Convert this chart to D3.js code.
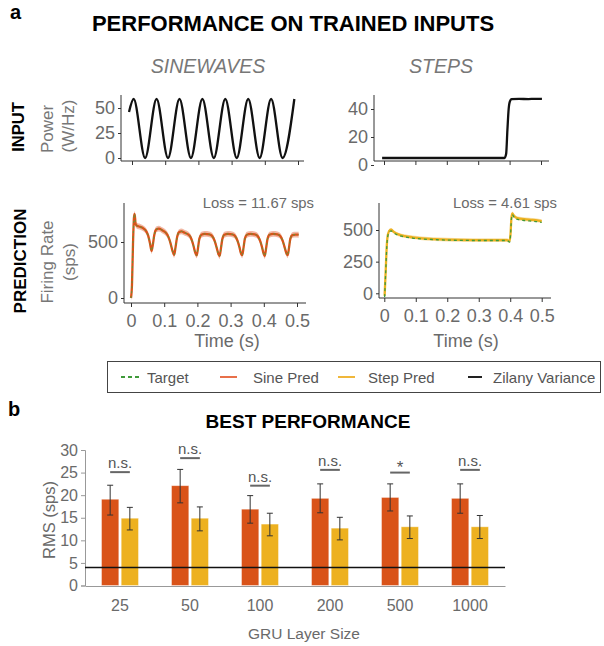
<!DOCTYPE html>
<html>
<head>
<meta charset="utf-8">
<script src="https://cdn.jsdelivr.net/npm/d3@7"></script>
<style>
  body { margin: 0; background: #fff; }
  svg { display: block; font-family: "Liberation Sans", Arial, Helvetica, sans-serif; }
</style>
</head>
<body>
<svg id="fig" width="604" height="646"></svg>
<script>
// ---------------------------------
// Data
// ---------------------------------
const timeTicks = [0, 0.1, 0.2, 0.3, 0.4, 0.5];

// sinewave input: extrema of the stimulus [t (s), power]
const sineInput = [
  [-0.009, 46], [0.005, 59], [0.0395, 0], [0.074, 59], [0.1085, 0], [0.143, 59],
  [0.1775, 0], [0.212, 59], [0.2465, 0], [0.281, 59], [0.3155, 0], [0.350, 59],
  [0.3845, 0], [0.419, 59], [0.4535, 0], [0.489, 59]
];

// step input [t, power]
const stepInput = [
  [-0.006, 5], [0.384, 5], [0.389, 8], [0.393, 25], [0.397, 40], [0.401, 45.5],
  [0.406, 47], [0.43, 47.2], [0.46, 47.1], [0.48, 47.3], [0.503, 47.2]
];

// predicted firing rate, sine-trained model [t, sps]
const sinePred = [
  [0.000, 0], [0.003, 120], [0.006, 480], [0.009, 720], [0.011, 750], [0.014, 660],
  [0.018, 645], [0.028, 635], [0.038, 620], [0.046, 595], [0.052, 555], [0.057, 490],
  [0.062, 420], [0.066, 480], [0.070, 560], [0.076, 612], [0.084, 620], [0.094, 605],
  [0.104, 585], [0.112, 550], [0.119, 490], [0.125, 420], [0.130, 385], [0.134, 450],
  [0.138, 530], [0.144, 585], [0.152, 595], [0.162, 582], [0.172, 568], [0.180, 540],
  [0.187, 480], [0.193, 410], [0.198, 380], [0.202, 450], [0.206, 530], [0.212, 565],
  [0.222, 572], [0.236, 568], [0.245, 552], [0.252, 510], [0.258, 450], [0.263, 395],
  [0.267, 375], [0.271, 445], [0.275, 525], [0.281, 565], [0.292, 572], [0.305, 568],
  [0.314, 552], [0.321, 510], [0.327, 450], [0.331, 400], [0.335, 382], [0.339, 450],
  [0.343, 530], [0.349, 565], [0.360, 572], [0.373, 568], [0.382, 552], [0.389, 510],
  [0.395, 450], [0.399, 400], [0.403, 375], [0.407, 445], [0.411, 525], [0.417, 565],
  [0.428, 572], [0.441, 568], [0.450, 552], [0.457, 510], [0.463, 450], [0.468, 400],
  [0.472, 382], [0.476, 450], [0.480, 530], [0.486, 562], [0.495, 566], [0.505, 565]
];
const sineTarget = sinePred; // target overlaps the prediction almost exactly

// predicted firing rate, step-trained model [t, sps]
const stepPred = [
  [0.001, -20], [0.004, 150], [0.008, 380], [0.012, 470], [0.018, 500], [0.022, 502],
  [0.030, 485], [0.045, 465], [0.065, 452], [0.09, 442], [0.12, 434], [0.16, 428],
  [0.2, 424], [0.25, 421], [0.3, 420], [0.35, 420], [0.39, 420], [0.398, 412],
  [0.401, 470], [0.404, 600], [0.407, 632], [0.411, 615], [0.418, 598], [0.43, 590],
  [0.45, 584], [0.47, 580], [0.49, 574], [0.5, 570]
];
const stepTarget = [
  [0.001, -30], [0.004, 140], [0.008, 370], [0.012, 462], [0.018, 490], [0.022, 492],
  [0.030, 477], [0.045, 458], [0.065, 446], [0.09, 436], [0.12, 429], [0.16, 424],
  [0.2, 420], [0.25, 418], [0.3, 417], [0.35, 417], [0.39, 417], [0.398, 405],
  [0.401, 460], [0.404, 590], [0.407, 622], [0.411, 605], [0.418, 588], [0.43, 580],
  [0.45, 574], [0.47, 570], [0.49, 564], [0.5, 560]
];

// panel b: best performance
const layerSizes = ["25", "50", "100", "200", "500", "1000"];
const sineRms   = [19.1, 22.1, 16.9, 19.3, 19.5, 19.3];
const sineErrLo = [15.6, 18.3, 13.8, 16.1, 16.5, 16.0];
const sineErrHi = [22.2, 25.7, 19.9, 22.5, 22.5, 22.5];
const stepRms   = [14.9, 14.9, 13.6, 12.7, 13.0, 13.0];
const stepErrLo = [12.3, 12.1, 11.0, 10.1, 10.4, 10.4];
const stepErrHi = [17.3, 17.4, 16.0, 15.1, 15.4, 15.5];
const sigLabels = ["n.s.", "n.s.", "n.s.", "n.s.", "*", "n.s."];
const sigLevel  = [25.1, 28.2, 22.1, 25.6, 25.0, 25.6];
const zilanyVariance = 4.0;
const rmsTicks = [0, 5, 10, 15, 20, 25, 30];

// ---------------------------------
// Styles
// ---------------------------------
const C = {
  sine: "#D95319",
  step: "#EDB120",
  target: "#3f9a3a",
  axis: "#333",
  tick: "#6a6a6a",
  label: "#777"
};

const svg = d3.select("#fig");

function txt(x, y, s, o = {}) {
  const t = svg.append("text")
    .attr("x", x).attr("y", y)
    .attr("text-anchor", o.anchor || "middle")
    .attr("font-size", o.size || 17)
    .attr("font-weight", o.weight || "normal")
    .attr("font-style", o.style || "normal")
    .attr("fill", o.fill || "#000")
    .text(s);
  if (o.rotate) t.attr("transform", `rotate(-90,${x},${y})`);
  return t;
}

// --- generic time-series panel ---
function timePanel(o) {
  const x = d3.scaleLinear().domain([0, 0.5]).range(o.xr);
  const y = d3.scaleLinear().domain(o.yd).range(o.yr);
  const g = svg.append("g");

  const xa = g.append("g")
    .attr("transform", `translate(0,${o.bottom})`)
    .call(d3.axisBottom(x).tickValues(timeTicks).tickSize(4).tickPadding(7)
      .tickFormat(o.xLabels ? d3.format("") : () => ""));
  const ya = g.append("g")
    .attr("transform", `translate(${o.left},0)`)
    .call(d3.axisLeft(y).tickValues(o.yticks).tickSize(3).tickPadding(3));

  [xa, ya].forEach(a => {
    a.select(".domain").remove();
    a.selectAll("line").attr("stroke", C.axis);
    a.selectAll("text").attr("font-size", 18).attr("fill", C.tick)
      .attr("font-family", "Liberation Sans, Arial, sans-serif");
  });

  g.append("line").attr("x1", o.left).attr("x2", o.left)
    .attr("y1", o.top).attr("y2", o.bottom).attr("stroke", C.axis);
  g.append("line").attr("x1", o.left).attr("x2", o.right)
    .attr("y1", o.bottom).attr("y2", o.bottom).attr("stroke", C.axis);

  return { x, y, g };
}

function drawLine(p, data, color, width, dash, curve) {
  const line = d3.line().x(d => p.x(d[0])).y(d => p.y(d[1])).curve(curve || d3.curveLinear);
  p.g.append("path").datum(data)
    .attr("fill", "none").attr("stroke", color).attr("stroke-width", width)
    .attr("stroke-linejoin", "round")
    .attr("stroke-dasharray", dash || null)
    .attr("d", line);
}

function drawBand(p, data, color, spread) {
  const area = d3.area().x(d => p.x(d[0]))
    .y0(d => p.y(d[1] - spread)).y1(d => p.y(d[1] + spread))
    .curve(d3.curveMonotoneX);
  p.g.append("path").datum(data).attr("fill", color).attr("d", area);
}

// ---------------------------------
// Panel a
// ---------------------------------
txt(10, 19, "a", { anchor: "start", size: 20, weight: "bold" });
txt(293, 31, "PERFORMANCE ON TRAINED INPUTS", { size: 22, weight: "bold" });
txt(208, 73, "SINEWAVES", { size: 19.5, style: "italic", fill: "#777" });
txt(441, 73, "STEPS", { size: 19.5, style: "italic", fill: "#777" });

txt(24, 127, "INPUT", { size: 16.5, weight: "bold", rotate: true });
txt(53, 129, "Power", { size: 17, fill: C.label, rotate: true });
txt(74, 126, "(W/Hz)", { size: 17, fill: C.label, rotate: true });

txt(26, 261, "PREDICTION", { size: 17, weight: "bold", rotate: true });
txt(53, 262, "Firing Rate", { size: 17, fill: C.label, rotate: true });
txt(75, 262, "(sps)", { size: 17, fill: C.label, rotate: true });

// sine input
const pSin = timePanel({ xr: [132, 298], yd: [0, 50], yr: [158, 108], yticks: [0, 25, 50],
  left: 121, right: 304, top: 95, bottom: 161, xLabels: false });
drawLine(pSin, sineInput, "#111", 2.3, null, d3.curveMonotoneX);

// step input
const pStep = timePanel({ xr: [384, 541], yd: [0, 40], yr: [165, 109], yticks: [0, 20, 40],
  left: 374, right: 549, top: 95, bottom: 161, xLabels: false });
drawLine(pStep, stepInput, "#111", 2.3, null, d3.curveMonotoneX);

// sine prediction
const pSinP = timePanel({ xr: [131, 297], yd: [0, 500], yr: [298, 242], yticks: [0, 500],
  left: 124, right: 306, top: 203, bottom: 303, xLabels: true });
drawBand(pSinP, sinePred, "rgba(224,100,55,0.45)", 26);
drawLine(pSinP, sinePred, C.sine, 2.3, null, d3.curveMonotoneX);
drawLine(pSinP, sineTarget, "#5a9a3c", 1, "2,3", d3.curveMonotoneX);
txt(314, 208, "Loss = 11.67 sps", { anchor: "end", size: 14.8, fill: C.tick });
txt(227, 347, "Time (s)", { size: 18, fill: C.tick });

// step prediction
const pStepP = timePanel({ xr: [384.3, 541.7], yd: [0, 500], yr: [293.3, 230], yticks: [0, 250, 500],
  left: 379, right: 551, top: 203, bottom: 298, xLabels: true });
drawBand(pStepP, stepPred, "rgba(240,195,90,0.5)", 14);
drawLine(pStepP, stepPred, C.step, 2.3, null, d3.curveMonotoneX);
drawLine(pStepP, stepTarget, C.target, 1.3, "3,3", d3.curveMonotoneX);
txt(557, 208, "Loss = 4.61 sps", { anchor: "end", size: 14.8, fill: C.tick });
txt(466, 347, "Time (s)", { size: 18, fill: C.tick });

// legend
const legendItems = [
  { label: "Target", color: C.target, dash: "4,3", x1: 121, x2: 142, tx: 147 },
  { label: "Sine Pred", color: "#e8704a", dash: null, x1: 220, x2: 237, tx: 253 },
  { label: "Step Pred", color: "#f0b73a", dash: null, x1: 338, x2: 355, tx: 368 },
  { label: "Zilany Variance", color: "#222", dash: null, x1: 468, x2: 482, tx: 493 }
];
svg.append("rect").attr("x", 107.5).attr("y", 361.5).attr("width", 493).attr("height", 31)
  .attr("fill", "none").attr("stroke", "#444");
legendItems.forEach(d => {
  svg.append("line").attr("x1", d.x1).attr("x2", d.x2).attr("y1", 377).attr("y2", 377)
    .attr("stroke", d.color).attr("stroke-width", 2).attr("stroke-dasharray", d.dash);
  txt(d.tx, 383, d.label, { anchor: "start", size: 15, fill: "#555" });
});

// ---------------------------------
// Panel b: bar chart
// ---------------------------------
txt(8, 416, "b", { anchor: "start", size: 20, weight: "bold" });
txt(308, 428, "BEST PERFORMANCE", { size: 19, weight: "bold" });

const x0 = d3.scaleBand().domain(layerSizes).range([85, 505]);
const x1 = d3.scaleBand().domain(["sine", "step"])
  .range([x0.bandwidth() / 2 - 18.5, x0.bandwidth() / 2 + 18.5]).paddingInner(0.12);
const yb = d3.scaleLinear().domain([0, 30]).range([585.5, 450]);

const gb = svg.append("g");

const yAx = gb.append("g").attr("transform", "translate(85,0)")
  .call(d3.axisLeft(yb).tickValues(rmsTicks).tickSize(4).tickPadding(3));
const xAx = gb.append("g").attr("transform", "translate(0,586)")
  .call(d3.axisBottom(x0).tickSize(0).tickPadding(14));
[yAx, xAx].forEach(a => {
  a.select(".domain").attr("stroke", "#999");
  a.selectAll("line").attr("stroke", "#999");
  a.selectAll("text").attr("font-size", 16).attr("fill", C.tick)
    .attr("font-family", "Liberation Sans, Arial, sans-serif");
});

txt(55, 520, "RMS (sps)", { size: 16.5, fill: C.tick, rotate: true });
txt(304, 639, "GRU Layer Size", { size: 15.5, fill: C.tick });

const series = [
  { key: "sine", vals: sineRms, lo: sineErrLo, hi: sineErrHi, color: C.sine },
  { key: "step", vals: stepRms, lo: stepErrLo, hi: stepErrHi, color: C.step }
];

series.forEach(s => {
  const bx = i => x0(layerSizes[i]) + x1(s.key);
  gb.selectAll(null).data(s.vals).enter().append("rect")
    .attr("x", (d, i) => bx(i))
    .attr("y", d => yb(d))
    .attr("width", x1.bandwidth())
    .attr("height", d => yb(0) - yb(d))
    .attr("fill", s.color)
    .attr("stroke", "rgba(255,255,255,0.5)")
    .attr("stroke-width", 0.8);

  const cx = i => bx(i) + x1.bandwidth() / 2;
  const eb = gb.selectAll(null).data(s.vals).enter().append("g")
    .attr("stroke", "#333").attr("stroke-width", 1);
  eb.append("line").attr("x1", (d, i) => cx(i)).attr("x2", (d, i) => cx(i))
    .attr("y1", (d, i) => yb(s.lo[i])).attr("y2", (d, i) => yb(s.hi[i]));
  eb.append("line").attr("x1", (d, i) => cx(i) - 3).attr("x2", (d, i) => cx(i) + 3)
    .attr("y1", (d, i) => yb(s.lo[i])).attr("y2", (d, i) => yb(s.lo[i]));
  eb.append("line").attr("x1", (d, i) => cx(i) - 3).attr("x2", (d, i) => cx(i) + 3)
    .attr("y1", (d, i) => yb(s.hi[i])).attr("y2", (d, i) => yb(s.hi[i]));
});

// Zilany variance reference line
gb.append("line").attr("x1", 85).attr("x2", 505)
  .attr("y1", yb(zilanyVariance)).attr("y2", yb(zilanyVariance))
  .attr("stroke", "#111").attr("stroke-width", 1.5);

// significance markers
layerSizes.forEach((c, i) => {
  const a = x0(c) + x1("sine") + x1.bandwidth() / 2;
  const b = x0(c) + x1("step") + x1.bandwidth() / 2;
  gb.append("line").attr("x1", a).attr("x2", b)
    .attr("y1", yb(sigLevel[i])).attr("y2", yb(sigLevel[i]))
    .attr("stroke", "#666").attr("stroke-width", 2);
  const isStar = sigLabels[i] === "*";
  txt((a + b) / 2, yb(sigLevel[i]) - (isStar ? 0 : 4), sigLabels[i],
    { size: isStar ? 17 : 15, fill: "#555" });
});
</script>
</body>
</html>
